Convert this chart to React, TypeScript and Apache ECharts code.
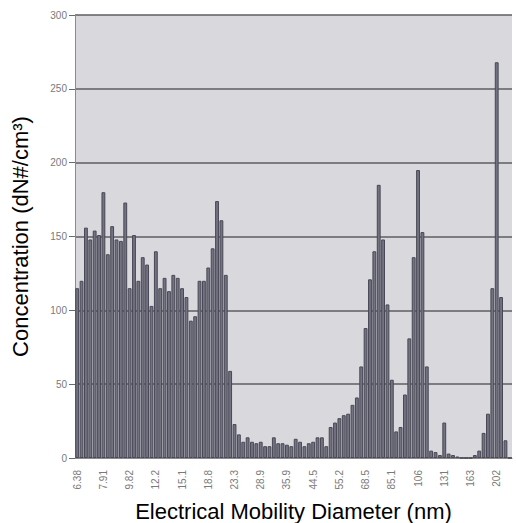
import React, { useEffect, useRef } from "react";
import * as echarts from "echarts";

const diameters: string[] = [
  "6.38", "6.61", "6.85", "7.1", "7.37", "7.64", "7.91", "8.2", "8.51", "8.82",
  "9.14", "9.47", "9.82", "10.2", "10.6", "10.9", "11.3", "11.8", "12.2", "12.6",
  "13.1", "13.6", "14.1", "14.6", "15.1", "15.7", "16.3", "16.8", "17.5", "18.1",
  "18.8", "19.5", "20.2", "20.9", "21.7", "22.5", "23.3", "24.1", "25.0", "25.9",
  "26.9", "27.9", "28.9", "30.0", "31.1", "32.2", "33.4", "34.6", "35.9", "37.2",
  "38.5", "40.0", "41.4", "42.9", "44.5", "46.1", "47.8", "49.6", "51.4", "53.3",
  "55.2", "57.3", "59.4", "61.5", "63.8", "66.1", "68.5", "71.0", "73.7", "76.4",
  "79.1", "82.0", "85.1", "88.2", "91.4", "94.7", "98.2", "102", "106", "109",
  "113", "118", "122", "126", "131", "136", "141", "146", "151", "157",
  "163", "168", "175", "181", "188", "195", "202", "209", "217", "225",
];

const concentration: number[] = [
  115, 120, 156, 148, 154, 151, 180, 138, 157, 148,
  147, 173, 115, 151, 120, 136, 131, 103, 140, 115,
  122, 113, 124, 122, 115, 109, 93, 96, 120, 120,
  129, 142, 174, 161, 124, 59, 23, 16, 11, 14,
  11, 10, 11, 8, 8, 14, 10, 10, 9, 8,
  13, 11, 8, 10, 11, 14, 14, 8, 21, 24,
  27, 29, 30, 36, 41, 62, 88, 121, 140, 185,
  148, 104, 53, 18, 21, 43, 81, 136, 195, 153,
  62, 5, 4, 2, 24, 3, 2, 1, 0, 0,
  0, 2, 5, 17, 30, 115, 268, 109, 12, 0,
];

const yTitle = "Concentration (dN#/cm³)";
const xTitle = "Electrical Mobility Diameter (nm)";

export default function App() {
  const ref = useRef<HTMLDivElement>(null);
  useEffect(() => {
    document.body.style.margin = "0";
    const chart = echarts.init(ref.current!, null, { renderer: "svg" });
    chart.setOption({
      animation: false,
      backgroundColor: "#ffffff",
      grid: {
        left: 75,
        right: 4,
        top: 15,
        bottom: 65,
        outerBoundsMode: "none",
        containLabel: false,
        show: true,
        backgroundColor: "#d9d8dc",
        borderWidth: 0,
      },
      xAxis: {
        type: "category",
        data: diameters,
        name: xTitle,
        nameLocation: "middle",
        nameGap: 42,
        nameTextStyle: { fontFamily: "Liberation Sans", fontSize: 22, color: "#000" },
        axisLine: { lineStyle: { color: "#8a8a8a", width: 1 } },
        axisTick: { interval: 5, length: 4, lineStyle: { color: "#8a8a8a" } },
        axisLabel: {
          interval: 5,
          rotate: 90,
          fontSize: 10,
          color: "#7a7a7a",
          fontFamily: "Liberation Sans",
          margin: 12,
        },
      },
      yAxis: {
        type: "value",
        min: 0,
        max: 300,
        interval: 50,
        name: yTitle,
        nameLocation: "middle",
        nameRotate: 90,
        nameGap: 44,
        nameTextStyle: { fontFamily: "Liberation Sans", fontSize: 22, color: "#000" },
        axisLine: { show: true, lineStyle: { color: "#8a8a8a", width: 1 } },
        axisTick: { show: true, length: 6, lineStyle: { color: "#6a6a6a" } },
        axisLabel: { fontSize: 10, color: "#7a7a7a", fontFamily: "Liberation Sans", margin: 8 },
        splitLine: { lineStyle: { color: "#5e5e62", width: 1.5 } },
      },
      series: [
        {
          type: "bar",
          data: concentration,
          barCategoryGap: "12%",
          itemStyle: { color: "#727283", borderColor: "#484854", borderWidth: 1 },
        },
      ],
    });
    return () => chart.dispose();
  }, []);
  return <div ref={ref} style={{ width: 516, height: 523 }} />;
}
